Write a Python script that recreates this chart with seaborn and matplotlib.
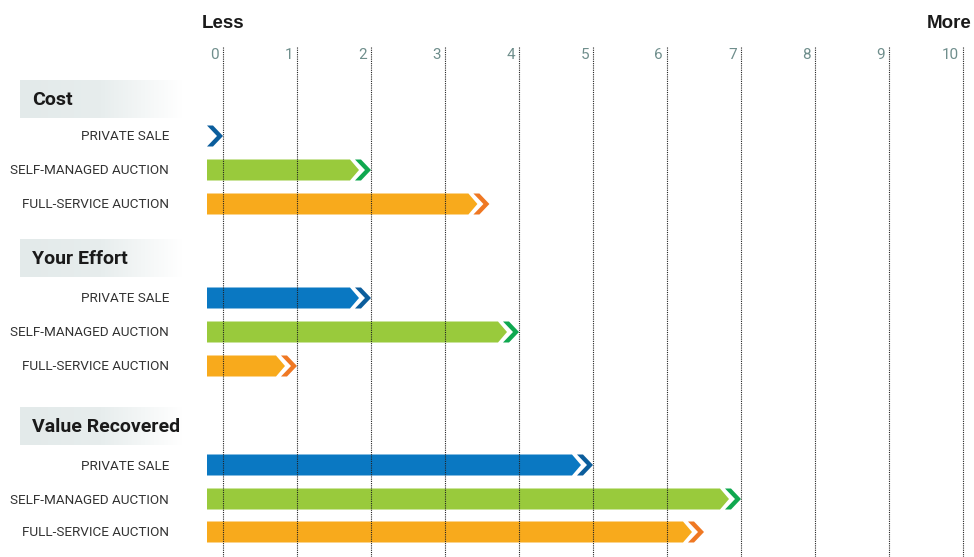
import matplotlib.pyplot as plt
import numpy as np
import seaborn as sns
from matplotlib.patches import Polygon

groups = ["Cost", "Your Effort", "Value Recovered"]
methods = ["PRIVATE SALE", "SELF-MANAGED AUCTION", "FULL-SERVICE AUCTION"]
cost = [0, 2, 3.6]
effort = [2, 4, 1]
value = [5, 7, 6.5]
ticks = list(range(0, 11))

sns.set_style("white")
plt.rcParams["font.family"] = ["Roboto", "DejaVu Sans"]

body_cols = ["#0a78c2", "#99ca3c", "#f8aa1c"]
tip_cols = ["#0b5d9c", "#0fa84f", "#ef7823"]

# layout in pixels (1 x unit = 74 px, y axis in px)
W, H = 974, 557
PX = 74.0
X0_PX, ZERO_PX = 207, 223
header_y = [99, 258, 426]
row_y = [[136, 170, 204], [298, 332, 366], [465, 499, 532]]
bar_h = 21

fig = plt.figure(figsize=(W / 100, H / 100), dpi=100)
ax = fig.add_axes([0, 0, 1, 1])
xmin = -ZERO_PX / PX
xmax = (W - ZERO_PX) / PX
ax.set_xlim(xmin, xmax)
ax.set_ylim(H, 0)
ax.axis("off")


def px(d):
    return d / PX


x0 = xmin + px(X0_PX)
fade = sns.blend_palette(["#e3eaea", "#e7eded", "#ffffff"], as_cmap=True)
for g, vals in enumerate([cost, effort, value]):
    # header box, fades out to the right
    grad = np.linspace(0, 1, 200).reshape(1, -1)
    hy = header_y[g]
    ax.imshow(grad, cmap=fade, extent=(xmin + px(20), xmin + px(182), hy + 19, hy - 19),
              aspect="auto", zorder=1)
    ax.text(xmin + px(32), hy + 1, groups[g], fontsize=14, fontweight="bold", color="#1a1a1a",
            ha="left", va="center", zorder=3)
    for i, v in enumerate(vals):
        y = row_y[g][i]
        top, bot = y - bar_h / 2, y + bar_h / 2
        ax.text(xmin + px(169), y + 1, methods[i], fontsize=9.7, color="#333333",
                ha="right", va="center", zorder=3)
        body_end = v - px(21)
        if body_end > x0:
            ax.add_patch(Polygon([(x0, top), (body_end, top), (v - px(12), y),
                                  (body_end, bot), (x0, bot)],
                                 closed=True, facecolor=body_cols[i], edgecolor="none", zorder=2))
        # chevron at the value
        ax.add_patch(Polygon([(v - px(16), top), (v - px(10), top), (v, y),
                              (v - px(10), bot), (v - px(16), bot), (v - px(6), y)],
                             closed=True, facecolor=tip_cols[i], edgecolor="none", zorder=2))

for t in ticks:
    ax.plot([t, t], [47, H], color="#222222", lw=0.8, ls=(0, (1, 1)), zorder=4)
    ax.text(t - px(4), 55, str(t), fontsize=11, color="#6f8e8c", ha="right", va="center")

ax.text(xmin + px(202), 23, "Less", fontsize=13.5, fontweight="bold", color="#1a1a1a",
        ha="left", va="center", family=["Liberation Sans", "DejaVu Sans"])
ax.text(xmin + px(972), 23, "More", fontsize=13.5, fontweight="bold", color="#1a1a1a",
        ha="right", va="center", family=["Liberation Sans", "DejaVu Sans"])

fig.savefig("out.png", dpi=100)
